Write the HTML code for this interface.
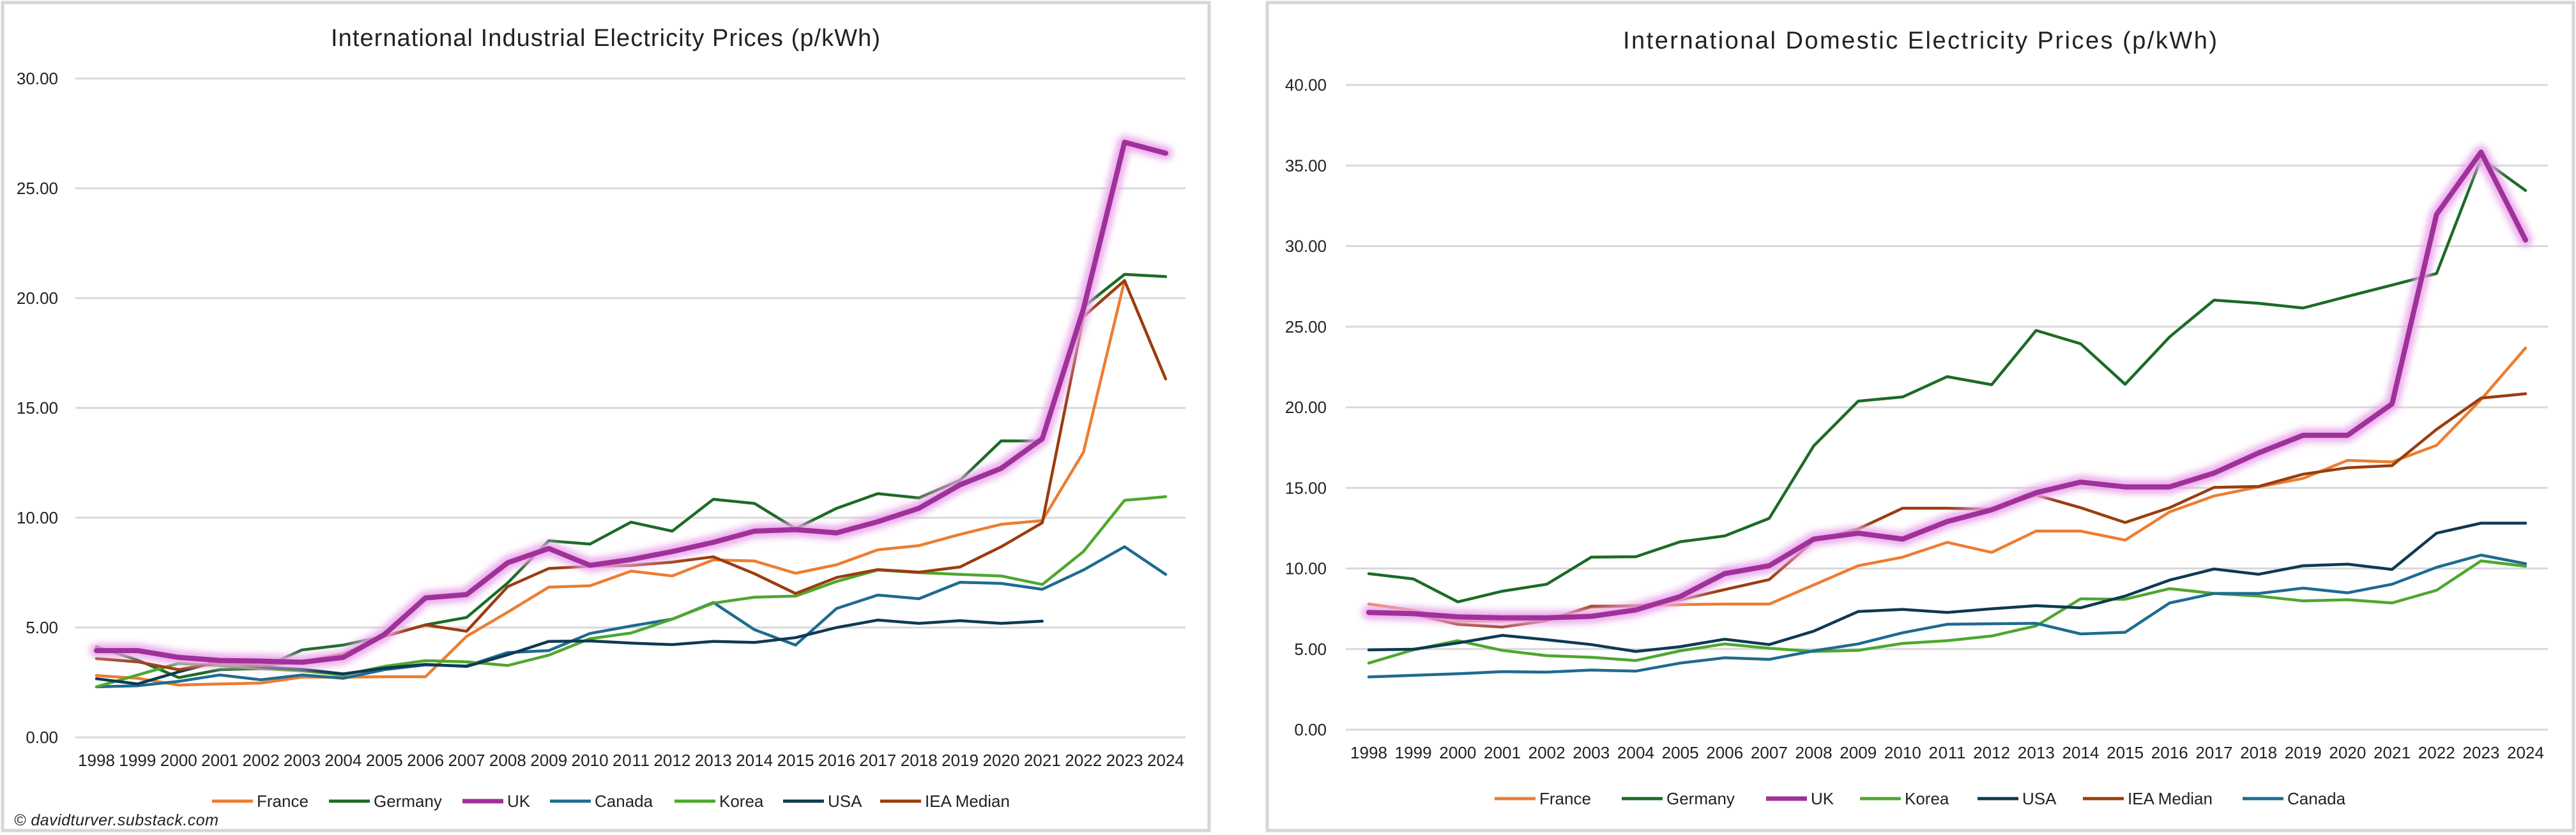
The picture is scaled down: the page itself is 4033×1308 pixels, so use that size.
<!DOCTYPE html>
<html><head><meta charset="utf-8"><style>
html,body{margin:0;padding:0;background:#fff;}
svg{display:block;font-family:"Liberation Sans",sans-serif;}
</style></head><body>
<svg id="root" width="4033" height="1308" viewBox="0 0 4033 1308" xmlns="http://www.w3.org/2000/svg">
<defs><filter id="glow" x="-5%" y="-5%" width="110%" height="110%"><feGaussianBlur stdDeviation="5"/></filter></defs>
<rect x="4" y="4" width="1889" height="1297" fill="#fff" stroke="#d6d6d6" stroke-width="5"/>
<rect x="1984" y="4" width="2045" height="1297" fill="#fff" stroke="#d6d6d6" stroke-width="5"/>
<text x="948" y="72" text-anchor="middle" font-size="38" fill="#222" textLength="860">International Industrial Electricity Prices (p/kWh)</text>
<text x="3006" y="76" text-anchor="middle" font-size="38" fill="#222" textLength="930">International Domestic Electricity Prices (p/kWh)</text>
<text x="22" y="1293" font-size="25" font-style="italic" fill="#222" textLength="320">© davidturver.substack.com</text>
<g id="g1"></g><g id="g2"></g>
</svg>
<script>
const years = [1998,1999,2000,2001,2002,2003,2004,2005,2006,2007,2008,2009,2010,2011,2012,2013,2014,2015,2016,2017,2018,2019,2020,2021,2022,2023,2024];
const indTicks = ["0.00","5.00","10.00","15.00","20.00","25.00","30.00"];
const domTicks = ["0.00","5.00","10.00","15.00","20.00","25.00","30.00","35.00","40.00"];

const indFrance = [2.81,2.69,2.38,2.43,2.47,2.74,2.74,2.76,2.76,4.6,5.7,6.84,6.9,7.57,7.35,8.08,8.03,7.47,7.86,8.54,8.73,9.24,9.7,9.87,12.98,20.8,null];
const indGermany = [4.12,3.52,2.72,3.08,3.13,3.98,4.2,4.6,5.12,5.46,7.03,8.95,8.8,9.8,9.39,10.84,10.65,9.5,10.43,11.1,10.9,11.7,13.5,13.49,19.6,21.08,20.98];
const indUK = [3.95,3.95,3.64,3.5,3.47,3.42,3.64,4.68,6.35,6.5,7.95,8.6,7.83,8.1,8.46,8.88,9.39,9.46,9.31,9.82,10.43,11.5,12.25,13.6,19.5,27.1,26.6];
const indCanada = [2.3,2.35,2.55,2.84,2.62,2.84,2.69,3.08,3.3,3.25,3.86,3.95,4.73,5.07,5.38,6.14,4.9,4.2,5.87,6.48,6.31,7.06,7.01,6.74,7.62,8.68,7.42];
const indKorea = [2.3,2.84,3.37,3.27,3.13,3.03,2.84,3.23,3.49,3.44,3.27,3.74,4.49,4.75,5.38,6.11,6.38,6.43,7.1,7.62,7.5,7.42,7.35,6.96,8.46,10.79,10.96];
const indUSA = [2.67,2.43,2.98,3.47,3.2,3.1,2.89,3.15,3.32,3.23,3.76,4.37,4.39,4.29,4.22,4.37,4.32,4.54,5.0,5.34,5.19,5.31,5.19,5.29,null,null,null];
const indIEA = [3.59,3.44,3.08,3.4,3.27,3.44,3.8,4.6,5.12,4.83,6.86,7.69,7.79,7.83,7.98,8.22,7.45,6.55,7.28,7.64,7.52,7.76,8.68,9.77,19.16,20.8,16.32];

const domFrance = [7.79,7.4,6.74,6.77,6.84,7.6,7.7,7.76,7.79,7.79,8.98,10.17,10.7,11.62,11.0,12.32,12.32,11.76,13.51,14.5,15.06,15.59,16.71,16.61,17.64,20.48,23.68];
const domGermany = [9.68,9.35,7.93,8.59,9.02,10.7,10.73,11.66,12.02,13.11,17.6,20.38,20.64,21.9,21.4,24.77,23.94,21.43,24.37,26.65,26.45,26.16,26.88,27.58,28.3,35.44,33.45];
const domUK = [7.27,7.2,7.0,6.94,6.94,7.03,7.43,8.26,9.68,10.17,11.82,12.19,11.82,12.91,13.64,14.7,15.36,15.06,15.06,15.92,17.17,18.26,18.26,20.21,31.97,35.83,30.38];
const domKorea = [4.13,4.95,5.52,4.92,4.59,4.49,4.29,4.89,5.32,5.05,4.85,4.92,5.35,5.52,5.81,6.44,8.12,8.09,8.75,8.45,8.29,7.99,8.06,7.86,8.65,10.47,10.14];
const domUSA = [4.95,4.99,5.38,5.85,5.58,5.28,4.85,5.15,5.61,5.28,6.11,7.33,7.46,7.27,7.5,7.69,7.56,8.29,9.28,9.97,9.64,10.17,10.27,9.94,12.19,12.81,12.81];
const domIEA = [7.27,7.17,6.54,6.37,6.77,7.66,7.66,8.06,8.69,9.31,11.72,12.45,13.74,13.74,13.67,14.56,13.77,12.85,13.77,15.03,15.09,15.85,16.25,16.38,18.63,20.57,20.84];
const domCanada = [3.27,3.37,3.47,3.6,3.57,3.7,3.63,4.13,4.46,4.36,4.89,5.32,6.01,6.54,6.57,6.6,5.94,6.04,7.86,8.45,8.45,8.78,8.49,9.02,10.07,10.83,10.3];

const C = {France:"#ED7D31",Germany:"#1C6B26",UK:"#A0309A",Canada:"#1F6B8F",Korea:"#4EA72E",USA:"#0E3A52",IEA:"#9A3D0E"};
const NS="http://www.w3.org/2000/svg";
function mk(p,tag,a){const e=document.createElementNS(NS,tag);for(const k in a)e.setAttribute(k,a[k]);p.appendChild(e);return e;}

function draw(g,o){
  const x=i=>o.x0+(o.x1-o.x0)*i/(years.length-1);
  const y=v=>o.yB-(o.yB-o.yT)*v/o.max;
  o.ticks.forEach((t,i)=>{
    const v=o.max*i/(o.ticks.length-1);
    const l=mk(g,"line",{x1:o.gl,x2:o.gr,y1:y(v),y2:y(v),stroke:"#d9d9d9","stroke-width":3});
    
    
    const t2=mk(g,"text",{x:o.tx,y:y(v)+9,"text-anchor":"end","font-size":26,fill:"#222"});
    t2.textContent=t;
    
    
  });
  years.forEach((yr,i)=>{
    const t=mk(g,"text",{x:x(i),y:o.yB+45,"text-anchor":"middle","font-size":26,fill:"#222",textLength:58});
    t.textContent=yr;
    
    
  });
  o.series.forEach(s=>{
    const pts=[];s.data.forEach((v,i)=>{if(v!==null)pts.push(x(i).toFixed(1)+","+y(v).toFixed(1));});
    if(s.key==="UK"){
      const gl=mk(g,"polyline",{points:pts.join(" "),fill:"none",stroke:"#e9a6ea","stroke-width":22,"stroke-linejoin":"round","stroke-linecap":"round",filter:"url(#glow)",opacity:0.9});
      
      
    }
    const pl=mk(g,"polyline",{points:pts.join(" "),fill:"none",stroke:C[s.key],"stroke-width":s.key==="UK"?8:4.5,"stroke-linejoin":"round","stroke-linecap":"round"});
    
    
    s.pl=pl;
  });
  // re-append UK on top
  o.series.forEach(s=>{if(s.key==="UK")g.appendChild(s.pl);});
  o.legend.forEach(([key,name,lx])=>{
    const lg=mk(g,"g",{});
    
    
    mk(lg,"line",{x1:lx,x2:lx+64,y1:o.ly,y2:o.ly,stroke:C[key],"stroke-width":key==="UK"?7:5});
    const t=mk(lg,"text",{x:lx+70,y:o.ly+9,"font-size":26,fill:"#222"});
    t.textContent=name;
  });
}

draw(document.getElementById("g1"),{x0:151,x1:1825,gl:118,gr:1856,yT:123,yB:1155,max:30,ticks:indTicks,tx:91,ly:1255,
  series:[{key:"France",name:"France",data:indFrance},{key:"Germany",name:"Germany",data:indGermany},{key:"Canada",name:"Canada",data:indCanada},{key:"Korea",name:"Korea",data:indKorea},{key:"USA",name:"USA",data:indUSA},{key:"IEA",name:"IEA Median",data:indIEA},{key:"UK",name:"UK",data:indUK}],
  legend:[["France","France",332],["Germany","Germany",515],["UK","UK",724],["Canada","Canada",861],["Korea","Korea",1056],["USA","USA",1226],["IEA","IEA Median",1378]]});

draw(document.getElementById("g2"),{x0:2143,x1:3954,gl:2107,gr:3989,yT:133,yB:1143,max:40,ticks:domTicks,tx:2077,ly:1251,
  series:[{key:"France",name:"France",data:domFrance},{key:"Germany",name:"Germany",data:domGermany},{key:"Korea",name:"Korea",data:domKorea},{key:"USA",name:"USA",data:domUSA},{key:"IEA",name:"IEA Median",data:domIEA},{key:"Canada",name:"Canada",data:domCanada},{key:"UK",name:"UK",data:domUK}],
  legend:[["France","France",2340],["Germany","Germany",2539],["UK","UK",2765],["Korea","Korea",2912],["USA","USA",3096],["IEA","IEA Median",3261],["Canada","Canada",3511]]});
</script>
</body></html>
